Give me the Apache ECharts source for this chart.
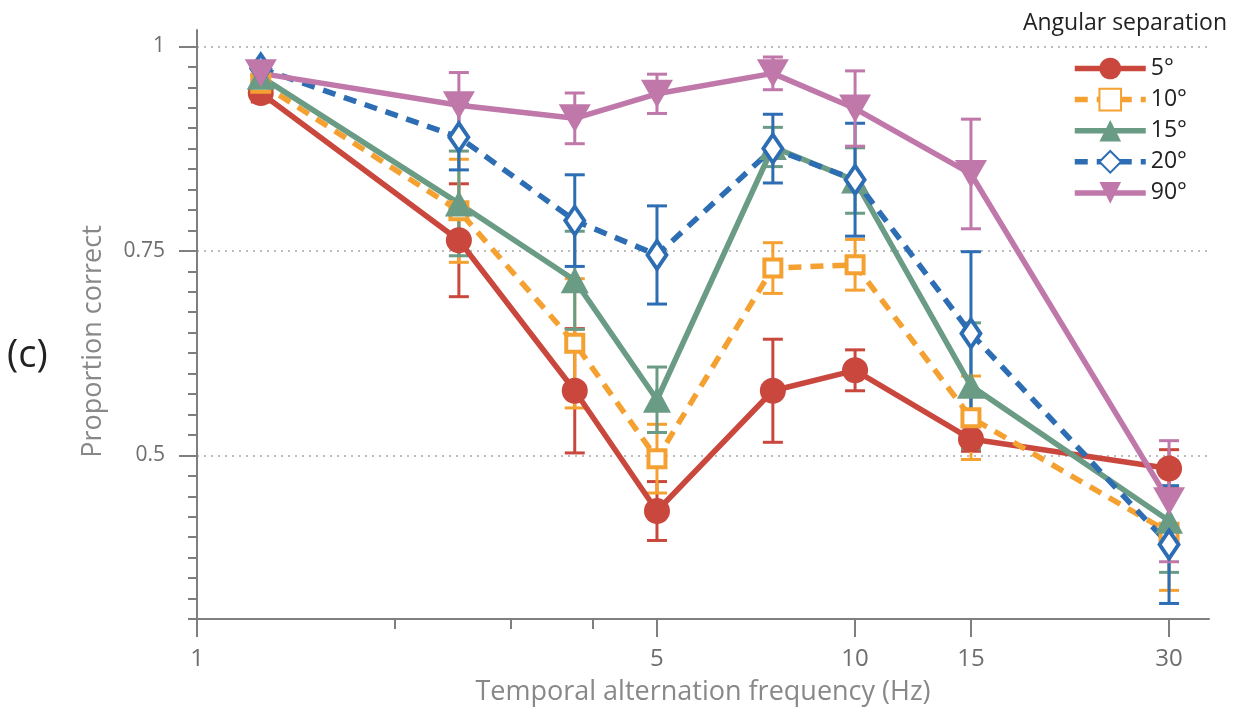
<!DOCTYPE html>
<html>
<head>
<meta charset="utf-8">
<script src="https://cdn.jsdelivr.net/npm/echarts@6/dist/echarts.min.js"></script>
<style>
  html, body { margin: 0; padding: 0; background: #fff; }
  #chart { width: 1246px; height: 712px; }
</style>
</head>
<body>
<div id="chart"></div>
<script>
// Temporal alternation frequencies (Hz)
const frequencies = [1.25, 2.5, 3.75, 5, 7.5, 10, 15, 30];
const separations = ['5°', '10°', '15°', '20°', '90°'];

// Mean proportion correct and error half-widths per angular separation
const mean5  = [0.943, 0.763, 0.579, 0.432, 0.579, 0.604, 0.520, 0.484];
const err5   = [0.011, 0.069, 0.076, 0.036, 0.063, 0.025, 0.015, 0.023];
const mean10 = [0.955, 0.799, 0.637, 0.496, 0.729, 0.733, 0.546, 0.406];
const err10  = [0.010, 0.063, 0.079, 0.042, 0.031, 0.031, 0.051, 0.071];
const mean15 = [0.963, 0.808, 0.714, 0.568, 0.877, 0.836, 0.585, 0.420];
const err15  = [0.008, 0.064, 0.060, 0.040, 0.024, 0.040, 0.077, 0.063];
const mean20 = [0.973, 0.889, 0.787, 0.745, 0.875, 0.837, 0.649, 0.391];
const err20  = [0.008, 0.040, 0.056, 0.060, 0.042, 0.069, 0.100, 0.072];
const mean90 = [0.967, 0.928, 0.912, 0.942, 0.967, 0.924, 0.844, 0.444];
const err90  = [0.008, 0.040, 0.031, 0.024, 0.020, 0.046, 0.067, 0.074];

// Axis ticks
const xTickValues = [1, 5, 10, 15, 30];
const xMinorTickValues = [2, 3, 4];
const yTickValues = [0.5, 0.75, 1];
const yMinorTickValues = [];
for (let k = 12; k <= 40; k++) yMinorTickValues.push(+(k * 0.025).toFixed(3));

const FONT = '"Open Sans", "Noto Sans", sans-serif';
const AXIS_GREY = '#7f7f7f';
const LABEL_GREY = '#6e6e6e';

const styles = {
  '5°':  { color: '#c9473d', symbol: 'circle',   size: 26,       dash: 'solid', hollow: false, rotate: 0 },
  '10°': { color: '#f5a131', symbol: 'rect',     size: 17,       dash: [13, 9], hollow: true,  rotate: 0 },
  '15°': { color: '#6a9b84', symbol: 'triangle', size: [28, 26], dash: 'solid', hollow: false, rotate: 0 },
  '20°': { color: '#2d6db3', symbol: 'diamond',  size: [19, 28], dash: [13, 9], hollow: true,  rotate: 0 },
  '90°': { color: '#bf78a9', symbol: 'triangle', size: [32, 28], dash: 'solid', hollow: false, rotate: 180 }
};

const seriesData = {
  '5°':  [mean5, err5],
  '10°': [mean10, err10],
  '15°': [mean15, err15],
  '20°': [mean20, err20],
  '90°': [mean90, err90]
};

function errorBars(name, color, means, errs) {
  return {
    type: 'custom',
    name: name + ' error',
    xAxisIndex: 0,
    yAxisIndex: 0,
    silent: true,
    clip: false,
    encode: { x: 0, y: [1, 2] },
    data: frequencies.map((f, i) => [f, means[i] - errs[i], means[i] + errs[i]]),
    renderItem(params, api) {
      const x = api.value(0);
      const lo = api.coord([x, api.value(1)]);
      const hi = api.coord([x, api.value(2)]);
      const w = 10;
      const st = { stroke: color, lineWidth: 3 };
      return {
        type: 'group',
        children: [
          { type: 'line', shape: { x1: lo[0], y1: lo[1], x2: hi[0], y2: hi[1] }, style: st },
          { type: 'line', shape: { x1: lo[0] - w, y1: lo[1], x2: lo[0] + w, y2: lo[1] }, style: st },
          { type: 'line', shape: { x1: hi[0] - w, y1: hi[1], x2: hi[0] + w, y2: hi[1] }, style: st }
        ]
      };
    }
  };
}

function meanLine(name, means) {
  const s = styles[name];
  return {
    type: 'line',
    name: name,
    xAxisIndex: 0,
    yAxisIndex: 0,
    data: frequencies.map((f, i) => [f, means[i]]),
    color: s.color,
    symbol: s.symbol,
    symbolSize: s.size,
    symbolRotate: s.rotate,
    showAllSymbol: true,
    clip: false,
    lineStyle: { color: s.color, width: 5.5, type: s.dash },
    itemStyle: s.hollow
      ? { color: '#ffffff', borderColor: s.color, borderWidth: 4 }
      : { color: s.color, borderWidth: 0 },
    emphasis: { disabled: true }
  };
}

const series = [];
separations.forEach(name => {
  const [m, e] = seriesData[name];
  series.push(errorBars(name, styles[name].color, m, e));
  series.push(meanLine(name, m));
});

const chart = echarts.init(document.getElementById('chart'), null, { renderer: 'canvas' });
chart.setOption({
  animation: false,
  backgroundColor: '#ffffff',
  textStyle: { fontFamily: FONT },
  title: {
    text: 'Angular separation',
    right: 14,
    top: 7,
    textStyle: { fontFamily: FONT, fontSize: 23, fontWeight: 'normal', color: '#222' }
  },
  legend: {
    data: separations,
    orient: 'vertical',
    left: 1067,
    top: 52,
    itemWidth: 71,
    itemHeight: 27,
    itemGap: 7.8,
    selectedMode: false,
    lineStyle: { width: 5.5 },
    textStyle: { fontFamily: FONT, fontSize: 23, color: '#222' }
  },
  graphic: [{
    type: 'text',
    left: 7,
    top: 337,
    style: { text: '(c)', font: '38px ' + FONT, fill: '#222' }
  }],
  grid: { left: 197, right: 37, top: 30, bottom: 93, containLabel: false },
  xAxis: [{
    type: 'log',
    logBase: 10,
    min: 1,
    max: 34.5,
    name: 'Temporal alternation frequency (Hz)',
    nameLocation: 'middle',
    nameGap: 60,
    nameTextStyle: { fontFamily: FONT, fontSize: 27, color: '#888' },
    axisLine: { show: true, lineStyle: { color: AXIS_GREY, width: 2 } },
    axisTick: { show: true, inside: false, length: 18, customValues: xTickValues, lineStyle: { color: AXIS_GREY, width: 2 } },
    axisLabel: { show: true, customValues: xTickValues, margin: 28, fontFamily: FONT, fontSize: 24, color: LABEL_GREY, formatter: v => String(v) },
    splitLine: { show: false },
    minorTick: { show: false }
  }, {
    type: 'log',
    logBase: 10,
    min: 1,
    max: 34.5,
    gridIndex: 0,
    position: 'bottom',
    axisLine: { show: false },
    axisTick: { show: true, inside: false, length: 10, customValues: xMinorTickValues, lineStyle: { color: AXIS_GREY, width: 2 } },
    axisLabel: { show: false },
    splitLine: { show: false }
  }],
  yAxis: [{
    type: 'value',
    min: 0.3,
    max: 1.02,
    name: 'Proportion correct',
    nameLocation: 'middle',
    nameGap: 90,
    nameRotate: 90,
    nameTextStyle: { fontFamily: FONT, fontSize: 27, color: '#888', padding: [0, 34, 0, 0] },
    axisLine: { show: true, lineStyle: { color: AXIS_GREY, width: 2 } },
    axisTick: { show: true, inside: false, length: 18, customValues: yTickValues, lineStyle: { color: AXIS_GREY, width: 2 } },
    axisLabel: { show: true, customValues: yTickValues, margin: 32, fontFamily: FONT, fontSize: 21, color: LABEL_GREY, formatter: v => String(v) },
    splitLine: { show: true, lineStyle: { color: '#a8a8a8', width: 1.5, type: [2, 5] } }
  }, {
    type: 'value',
    min: 0.3,
    max: 1.02,
    gridIndex: 0,
    position: 'left',
    offset: 0,
    axisLine: { show: false },
    axisTick: { show: true, inside: false, length: 9, customValues: yMinorTickValues, lineStyle: { color: AXIS_GREY, width: 2 } },
    axisLabel: { show: false },
    splitLine: { show: false }
  }],
  series: series
});
</script>
</body>
</html>
